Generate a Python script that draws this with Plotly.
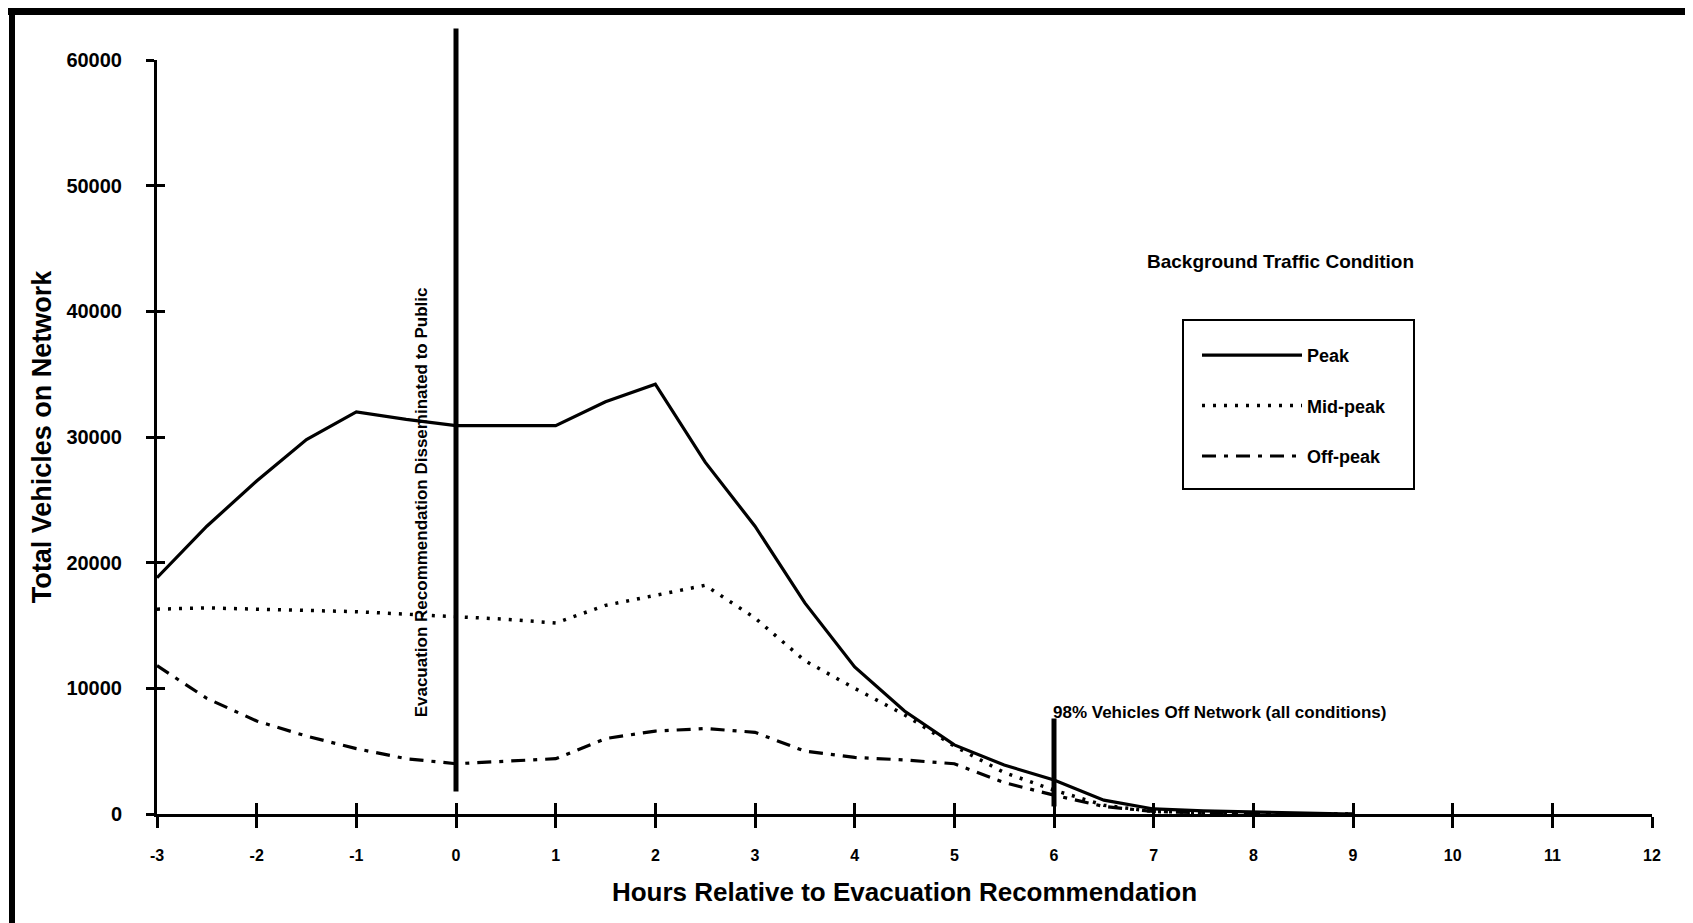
import plotly.graph_objects as go

# ---------------- data ----------------
hours = [-3, -2.5, -2, -1.5, -1, -0.5, 0, 0.5, 1, 1.5, 2, 2.5, 3, 3.5, 4,
         4.5, 5, 5.5, 6, 6.5, 7, 7.5, 8, 8.5, 9]
peak = [18800, 22900, 26500, 29800, 32000, 31400, 30900, 30900, 30900, 32800,
        34200, 28000, 22900, 16800, 11700, 8200, 5500, 3900, 2700, 1100,
        400, 250, 150, 100, 0]
mid_peak = [16300, 16400, 16300, 16200, 16100, 15900, 15700, 15500, 15200,
            16600, 17400, 18200, 15600, 12200, 10000, 7900, 5400, 3300, 1900,
            700, 200, 100, 50, 0, 0]
off_peak = [11800, 9200, 7400, 6200, 5200, 4400, 4000, 4200, 4400, 6000,
            6600, 6800, 6500, 5000, 4500, 4300, 4000, 2500, 1500, 600, 200,
            100, 0, 0, 0]
series_names = ["Peak", "Mid-peak", "Off-peak"]

x_tick_vals = list(range(-3, 13))
x_tick_text = ["-3", "-2", "-1", "0", "1", "2", "3", "4", "5", "6", "7", "8",
               "9", "10", "11", "12"]
y_tick_vals = [0, 10000, 20000, 30000, 40000, 50000, 60000]
y_tick_text = ["0", "10000", "20000", "30000", "40000", "50000", "60000"]

event_hours = [0, 6]
event_bottom = [1800, 600]
event_top = [62500, 7600]
event_labels = ["Evacuation Recommendation Disseminated to Public",
                "98% Vehicles Off Network (all conditions)"]

X_RANGE = [-3, 12]
Y_RANGE = [0, 60000]

# ---------------- layout geometry ----------------
W, H = 1693, 923
ML, MR, MT, MB = 149, 49, 52, 117
PW = W - ML - MR
PH = H - MT - MB
OFF = 8  # correction applied to positions measured on the reference


def px_x(px):
    return (px - OFF - ML) / PW


def px_y(py):
    return (H - MB - (py - OFF)) / PH


FONT = "Liberation Sans, Arial, Helvetica, sans-serif"

fig = go.Figure()

styles = [
    dict(color="black", width=3.2, dash="solid"),
    dict(color="black", width=3.5, dash="3px,8px"),
    dict(color="black", width=3.2, dash="14px,8px,4px,8px"),
]
for name, vals, st, grp in zip(series_names, [peak, mid_peak, off_peak],
                               styles, ["a", "b", "c"]):
    fig.add_trace(go.Scatter(x=hours, y=vals, mode="lines", name=name,
                             line=st, legendgroup=grp, hoverinfo="skip"))

# dummy trace so the overlay axes (crossing ticks) are drawn
fig.add_trace(go.Scatter(x=[hours[0]], y=[0], xaxis="x2", yaxis="y2",
                         mode="markers", marker=dict(opacity=0),
                         showlegend=False, hoverinfo="skip"))

axis_common = dict(showgrid=False, zeroline=False, showline=True,
                   linecolor="black", linewidth=3, tickcolor="black",
                   tickwidth=3)

fig.update_layout(
    width=W, height=H,
    margin=dict(l=ML, r=MR, t=MT, b=MB),
    paper_bgcolor="white", plot_bgcolor="white",
    font=dict(family=FONT, color="black"),
    showlegend=True,
    legend=dict(x=px_x(1197), y=px_y(337), xanchor="left", yanchor="top",
                bgcolor="rgba(0,0,0,0)", borderwidth=0,
                itemwidth=100, tracegroupgap=24,
                font=dict(family=FONT, size=18, color="black",
                          weight="bold")),
    xaxis=dict(range=X_RANGE, tickvals=x_tick_vals, ticktext=x_tick_text,
               ticks="outside", ticklen=11, ticklabelstandoff=14,
               tickfont=dict(family=FONT, size=16, weight="bold"),
               title=dict(text="Hours Relative to Evacuation Recommendation",
                          font=dict(size=26, weight="bold"), standoff=20),
               **axis_common),
    yaxis=dict(range=Y_RANGE, tickvals=y_tick_vals, ticktext=y_tick_text,
               ticks="outside", ticklen=8, ticklabelstandoff=20,
               tickfont=dict(family=FONT, size=20, weight="bold"),
               title=dict(text="Total Vehicles on Network",
                          font=dict(size=27, weight="bold"), standoff=7),
               **axis_common),
    xaxis2=dict(overlaying="x", matches="x", anchor="y2", range=X_RANGE,
                tickvals=x_tick_vals, ticks="inside", ticklen=11,
                showticklabels=False, **axis_common),
    yaxis2=dict(overlaying="y", matches="y", anchor="x2", range=Y_RANGE,
                tickvals=y_tick_vals, ticks="inside", ticklen=8,
                showticklabels=False, **axis_common),
)

# event lines (the one at 0 rises above the plot top, so paper y is used)
for h, yb, yt, w in zip(event_hours, event_bottom, event_top, [5, 5]):
    fig.add_shape(type="line", xref="x", yref="paper", x0=h, x1=h,
                  y0=yb / Y_RANGE[1], y1=yt / Y_RANGE[1],
                  line=dict(color="black", width=w), layer="above")

fig.add_annotation(x=event_hours[0], y=24800, xref="x", yref="y",
                   text=event_labels[0], textangle=-90, showarrow=False,
                   xshift=-35,
                   font=dict(family=FONT, size=17, color="black",
                             weight="bold"))
fig.add_annotation(x=event_hours[1], y=8100, xref="x", yref="y",
                   text=event_labels[1], showarrow=False, xanchor="left",
                   yanchor="middle", xshift=-3,
                   font=dict(family=FONT, size=17, color="black",
                             weight="bold"))

# legend title and legend frame
fig.add_annotation(x=px_x(1280), y=px_y(261), xref="paper", yref="paper",
                   text="Background Traffic Condition", showarrow=False,
                   xanchor="center", yanchor="middle",
                   font=dict(family=FONT, size=19, color="black",
                             weight="bold"))
fig.add_shape(type="rect", xref="paper", yref="paper",
              x0=px_x(1183), x1=px_x(1414), y0=px_y(489), y1=px_y(320),
              line=dict(color="black", width=2), fillcolor="rgba(0,0,0,0)")

# page frame (top and left borders of the scanned page)
fig.add_shape(type="line", xref="paper", yref="paper",
              x0=px_x(-20), x1=px_x(W + 20), y0=px_y(11), y1=px_y(11),
              line=dict(color="black", width=8))
fig.add_shape(type="line", xref="paper", yref="paper",
              x0=px_x(12), x1=px_x(12), y0=px_y(8), y1=px_y(H + 20),
              line=dict(color="black", width=6))

fig.write_html("out.html")
